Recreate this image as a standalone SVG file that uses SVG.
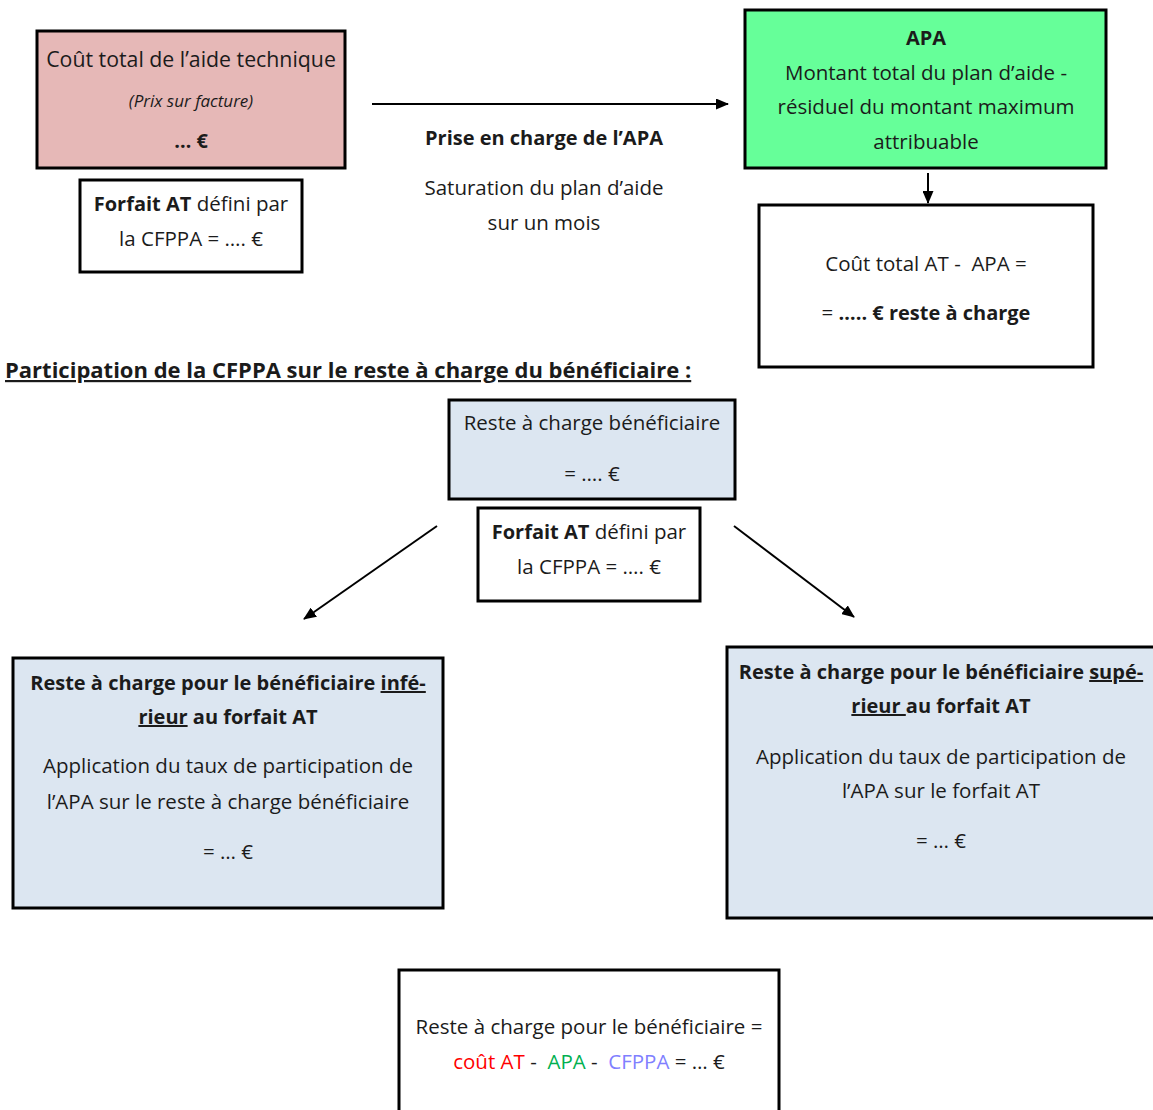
<svg xmlns="http://www.w3.org/2000/svg" width="1153" height="1110" viewBox="0 0 1153 1110">
<defs>
<marker id="ah" markerWidth="13" markerHeight="11" refX="12" refY="5.5" orient="auto" markerUnits="userSpaceOnUse" viewBox="0 0 13 11">
<path d="M0,0 L13,5.5 L0,11 z" fill="#000"/>
</marker>
<style>
text{font-family:"Open Sans",Lato,"Liberation Sans",sans-serif;font-size:20.5px;fill:#1b1b1b;text-anchor:middle}
.b{font-weight:bold;font-size:20px}
.box{stroke:#000;stroke-width:3}
.c{stroke:#000;stroke-width:2;fill:none;marker-end:url(#ah)}
</style>
</defs>
<rect width="1153" height="1110" fill="#fff"/>
<g id="cout-total">
<rect class="box" x="37" y="31" width="308" height="137" fill="#e6b8b7"/>
<text x="191" y="67" style="font-size:21.3px">Coût total de l’aide technique</text>
<text x="191" y="107" style="font-size:17px;font-style:italic">(Prix sur facture)</text>
<text x="191" y="148" class="b">… €</text>
</g>
<g id="forfait-1">
<rect class="box" x="80" y="180" width="222" height="92" fill="#fff"/>
<text x="191" y="211"><tspan class="b">Forfait AT</tspan> défini par</text>
<text x="191" y="246">la CFPPA = …. €</text>
</g>
<g id="prise-en-charge">
<text x="544" y="145" class="b">Prise en charge de l’APA</text>
<text x="544" y="195">Saturation du plan d’aide</text>
<text x="544" y="230">sur un mois</text>
</g>
<g id="apa">
<rect class="box" x="745" y="10" width="361" height="158" fill="#66ff99"/>
<text x="926" y="45" class="b">APA</text>
<text x="926" y="80">Montant total du plan d’aide -</text>
<text x="926" y="114">résiduel du montant maximum</text>
<text x="926" y="149">attribuable</text>
</g>
<g id="reste-apa">
<rect class="box" x="759" y="205" width="334" height="162" fill="#fff"/>
<text x="926" y="271">Coût total AT -&#160; APA =</text>
<text x="926" y="320">= <tspan class="b">….. € reste à charge</tspan></text>
</g>
<g id="titre">
<text x="5" y="378" class="b" style="text-anchor:start;font-size:22px;text-decoration:underline">Participation de la CFPPA sur le reste à charge du bénéficiaire :</text>
</g>
<g id="reste-beneficiaire">
<rect class="box" x="449" y="400" width="286" height="99" fill="#dce6f1"/>
<text x="592" y="430">Reste à charge bénéficiaire</text>
<text x="592" y="481">= …. €</text>
</g>
<g id="forfait-2">
<rect class="box" x="478" y="508" width="222" height="93" fill="#fff"/>
<text x="589" y="539"><tspan class="b">Forfait AT</tspan> défini par</text>
<text x="589" y="574">la CFPPA = …. €</text>
</g>
<g id="inferieur">
<rect class="box" x="13" y="658" width="430" height="250" fill="#dce6f1"/>
<text x="228" y="690" class="b">Reste à charge pour le bénéficiaire <tspan text-decoration="underline">infé-</tspan></text>
<text x="228" y="724" class="b"><tspan text-decoration="underline">rieur</tspan> au forfait AT</text>
<text x="228" y="773">Application du taux de participation de</text>
<text x="228" y="809">l’APA sur le reste à charge bénéficiaire</text>
<text x="228" y="859">= … €</text>
</g>
<g id="superieur">
<rect class="box" x="727" y="647" width="430" height="271" fill="#dce6f1"/>
<text x="941" y="679" class="b">Reste à charge pour le bénéficiaire <tspan text-decoration="underline">supé-</tspan></text>
<text x="941" y="713" class="b"><tspan text-decoration="underline">rieur </tspan>au forfait AT</text>
<text x="941" y="764">Application du taux de participation de</text>
<text x="941" y="798">l’APA sur le forfait AT</text>
<text x="941" y="848">= … €</text>
</g>
<g id="formule">
<rect class="box" x="399" y="970" width="380" height="145" fill="#fff"/>
<text x="589" y="1034">Reste à charge pour le bénéficiaire =</text>
<text x="589" y="1069"><tspan fill="#ff0000">coût AT</tspan> -&#160; <tspan fill="#00b050">APA</tspan> -&#160; <tspan fill="#8080ff">CFPPA</tspan> = … €</text>
</g>
<g id="connecteurs">
<line class="c" x1="372" y1="104" x2="728" y2="104"/>
<line class="c" x1="928" y1="173" x2="928" y2="203"/>
<line class="c" x1="437" y1="526" x2="304" y2="619"/>
<line class="c" x1="734" y1="526" x2="854" y2="617"/>
</g>
</svg>
